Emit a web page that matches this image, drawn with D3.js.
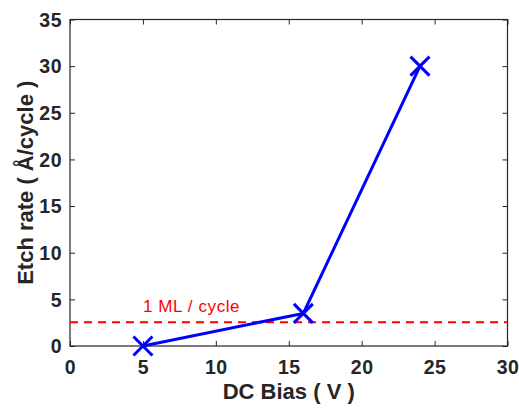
<!DOCTYPE html>
<html><head><meta charset="utf-8">
<script src="https://cdn.jsdelivr.net/npm/d3@7"></script>
<style>body{margin:0;background:#fff}svg{display:block}text{font-family:"Liberation Sans",Arial,Helvetica,sans-serif}</style>
</head><body>
<svg id="c" width="519" height="410"></svg>
<script>
const biasV = [5, 16, 24];
const etchRate = [0, 3.5, 30];
const mlLevel = 2.55;
const mlLabel = "1 ML / cycle";
const xTicks = [0, 5, 10, 15, 20, 25, 30];
const yTicks = [0, 5, 10, 15, 20, 25, 30, 35];
const xLabel = "DC Bias ( V )";
const yLabel = "Etch rate ( Å/cycle )";

const svg = d3.select("#c");
const L = 70, R = 507.5, T = 19.5, B = 346;
const x = d3.scaleLinear().domain([0, 30]).range([L, R]);
const y = d3.scaleLinear().domain([0, 35]).range([B, T]);
const axisCol = "#262626";

svg.append("rect").attr("x", L).attr("y", T).attr("width", R - L).attr("height", B - T)
  .attr("fill", "none").attr("stroke", axisCol).attr("stroke-width", 1.2);

const tl = 5;
const gx = svg.append("g").attr("transform", `translate(0,${B})`)
  .call(d3.axisBottom(x).tickValues(xTicks).tickSizeInner(-tl).tickSizeOuter(0).tickPadding(14));
const gxt = svg.append("g").attr("transform", `translate(0,${T})`)
  .call(d3.axisTop(x).tickValues(xTicks).tickSizeInner(-tl).tickSizeOuter(0).tickFormat(""));
const gy = svg.append("g").attr("transform", `translate(${L},0)`)
  .call(d3.axisLeft(y).tickValues(yTicks).tickSizeInner(-tl).tickSizeOuter(0).tickPadding(8));
const gyr = svg.append("g").attr("transform", `translate(${R},0)`)
  .call(d3.axisRight(y).tickValues(yTicks).tickSizeInner(-tl).tickSizeOuter(0).tickFormat(""));
[gx, gxt, gy, gyr].forEach(g => {
  g.select(".domain").remove();
  g.selectAll("line").attr("stroke", axisCol).attr("stroke-width", 1);
  g.selectAll("text").attr("fill", axisCol).attr("font-size", 19.5).attr("font-weight", "bold")
    .attr("letter-spacing", 0.5)
    .attr("font-family", '"Liberation Sans",Arial,sans-serif');
});
gy.selectAll("text").attr("dy", "0.35em");

svg.append("line").attr("x1", L).attr("x2", R).attr("y1", y(mlLevel)).attr("y2", y(mlLevel))
  .attr("stroke", "#ff0000").attr("stroke-width", 2).attr("stroke-dasharray", "8,6");
svg.append("text").attr("x", x(5)).attr("y", y(mlLevel) - 10).attr("fill", "#ff0000")
  .attr("font-size", 17).attr("letter-spacing", 0.6).text(mlLabel);

const pts = biasV.map((v, i) => [v, etchRate[i]]);
svg.append("path").datum(pts)
  .attr("d", d3.line().x(d => x(d[0])).y(d => y(d[1])))
  .attr("fill", "none").attr("stroke", "#0000ff").attr("stroke-width", 3);
const m = 9.5;
svg.selectAll("path.mk").data(pts).enter().append("path").attr("class", "mk")
  .attr("d", d => { const cx = x(d[0]), cy = y(d[1]);
    return `M${cx-m},${cy-m}L${cx+m},${cy+m}M${cx-m},${cy+m}L${cx+m},${cy-m}`; })
  .attr("stroke", "#0000ff").attr("stroke-width", 3).attr("fill", "none");

svg.append("text").attr("x", (L + R) / 2).attr("y", 399).attr("text-anchor", "middle")
  .attr("font-size", 22).attr("font-weight", "bold").attr("fill", axisCol).text(xLabel);
svg.append("text").attr("transform", `translate(33,${(T + B) / 2}) rotate(-90)`)
  .attr("text-anchor", "middle").attr("font-size", 22).attr("font-weight", "bold")
  .attr("fill", axisCol).text(yLabel);
</script>
</body></html>
